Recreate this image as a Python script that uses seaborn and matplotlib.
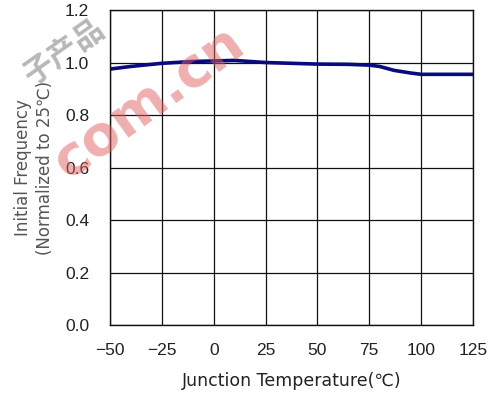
import matplotlib
matplotlib.use("Agg")
import matplotlib.pyplot as plt
import seaborn as sns
import pandas as pd

temps = [-50, -40, -25, -10, 0, 10, 25, 50, 65, 75, 80, 87, 95, 100, 125]
freq = [0.975, 0.985, 0.997, 1.004, 1.006, 1.008, 1.0, 0.994, 0.993, 0.99, 0.985, 0.97, 0.96, 0.955, 0.955]
x_ticks = [-50, -25, 0, 25, 50, 75, 100, 125]
x_tick_labels = ["\u221250", "\u221225", "0", "25", "50", "75", "100", "125"]
y_ticks = [0.0, 0.2, 0.4, 0.6, 0.8, 1.0, 1.2]

df = pd.DataFrame({"temp": temps, "freq": freq})

sns.set_theme(style="white")
plt.rcParams['font.family'] = ['Liberation Sans', 'Noto Sans CJK KR', 'DejaVu Sans']

fig = plt.figure(figsize=(4.96, 3.96), dpi=100)
ax = fig.add_axes([0.2218, 0.1793, 0.7318, 0.7954])

sns.lineplot(data=df, x="temp", y="freq", ax=ax, color="#0a0a80", linewidth=2.6)

ax.set_xlim(-50, 125)
ax.set_ylim(0, 1.2)
ax.set_xticks(x_ticks)
ax.set_yticks(y_ticks)
ax.set_xticklabels(x_tick_labels)
ax.set_yticklabels([f"{v:.1f}" for v in y_ticks])
ax.tick_params(axis="x", length=0, labelsize=12.5, colors="#222222", pad=13)
ax.tick_params(axis="y", length=0, labelsize=12.5, colors="#222222", pad=15)
ax.grid(True, color="#111111", linewidth=0.9)
for s in ax.spines.values():
    s.set_color("#111111")
    s.set_linewidth(1.0)

lab_family = ['DejaVu Sans', 'Noto Sans CJK KR']
ax.set_xlabel("Junction Temperature(\u2103)", fontsize=12.5, color="#222222", labelpad=10,
              family=lab_family)
ax.set_ylabel("Initial Frequency\n(Normalized to 25\u2103)", fontsize=12, color="#555555",
              labelpad=8, linespacing=1.25, family=lab_family)

fig.text(0.13, 0.87, "\u5b50\u4ea7\u54c1", fontsize=22, fontweight="bold", color="#999999",
         alpha=0.7, rotation=35, ha="center", va="center", zorder=10,
         family=['Noto Sans CJK SC', 'DejaVu Sans'])
fig.text(0.30, 0.74, "com.cn", fontsize=40, fontweight="bold", color="#e06060",
         alpha=0.5, rotation=36, ha="center", va="center", zorder=10,
         family=['DejaVu Sans'])

fig.savefig("out.png", dpi=100)
